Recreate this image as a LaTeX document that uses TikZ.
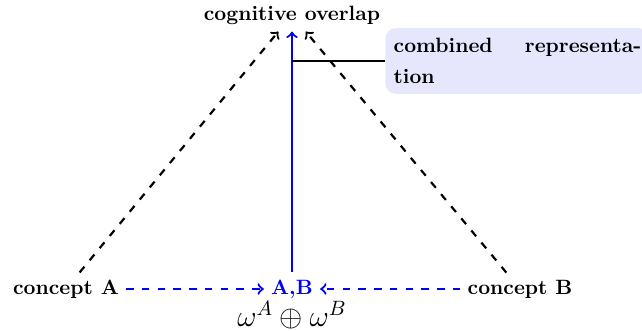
\documentclass[tikz,border=0pt]{standalone}
\usetikzlibrary{arrows}
\definecolor{boxfill}{RGB}{230,230,252}
\begin{document}
\begin{tikzpicture}[x=0.4825pt,y=-0.4825pt,
  lbl/.style={font=\bfseries},
  lw/.style={line width=1.05pt},
  dsh/.style={dash pattern=on 3.6pt off 4pt},
  dline/.style={lw,dsh,->},
  bline/.style={lw,blue,->},
  bdline/.style={lw,blue,dsh,->},
  callout/.style={fill=boxfill,rounded corners=5pt,text width=4.2cm,align=justify,inner xsep=4pt,inner ysep=5pt,
     font=\bfseries\linespread{1.22}\selectfont}]
\useasboundingbox (0,0) rectangle (642,331);
\node[lbl] (cog) at (292,15) {cognitive overlap};
\node[lbl] (cA) at (66,289) {concept A};
\node[lbl,text=blue] (AB) at (292,289) {A,B};
\node[lbl] (cB) at (520,289) {concept B};
\node[anchor=base,font=\Large] (om) at (292,326) {$\omega^A\oplus\omega^B$};
\node[callout,anchor=west] (box) at (385,61) {combined representation};
\draw[dline] (cA) -- (cog);
\draw[dline] (cB) -- (cog);
\draw[bline] (AB) -- (cog);
\draw[bdline] (cA) -- (AB);
\draw[bdline] (cB) -- (AB);
\draw[lw] (box.west) -- (box.west -| AB);
\end{tikzpicture}
\end{document}
